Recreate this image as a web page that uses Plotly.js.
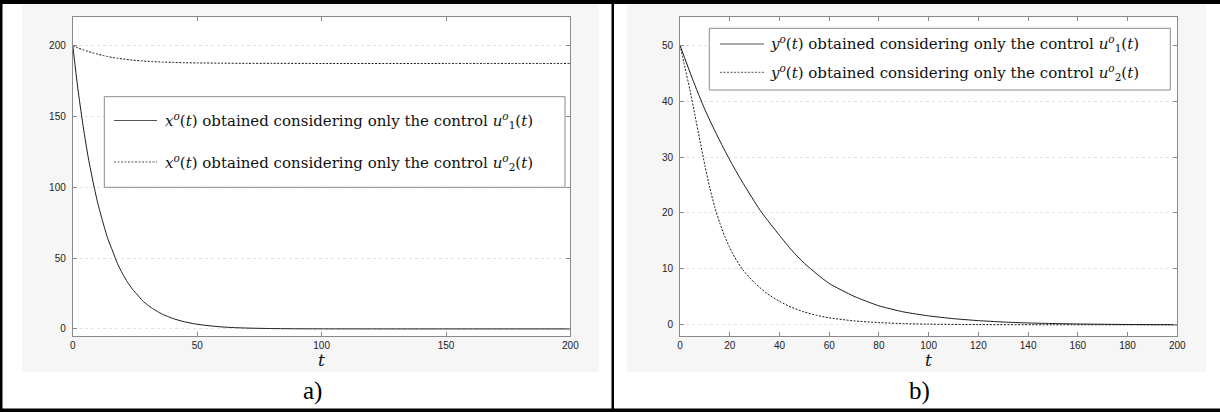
<!DOCTYPE html>
<html>
<head>
<meta charset="utf-8">
<script src="https://cdn.plot.ly/plotly-3.0.1.min.js"></script>
<style>html,body{margin:0;padding:0;background:#fff;}#plot{width:1220px;height:412px;}</style>
</head>
<body>
<div id="plot"></div>
<script>
// ---------- data ----------
// Panel a: x^o(t)
const tA = [0, 2, 4, 6, 8, 10, 12, 14, 16, 18, 20, 22, 24, 26, 28, 30, 32, 34, 36, 38, 40, 44, 48, 52, 56, 60, 65, 70, 80, 90, 100, 120, 150, 200];
const xA_u1 = [200, 170, 145, 123, 105, 89, 76, 64, 55, 46, 39, 33, 28, 24, 20, 17, 14.5, 12.3, 10.4, 8.9, 7.5, 5.4, 3.9, 2.8, 2.0, 1.4, 0.9, 0.6, 0.25, 0.1, 0.05, 0.01, 0, 0];
const tA2 = [0, 2, 4, 6, 8, 10, 12, 14, 16, 18, 20, 24, 28, 32, 36, 40, 45, 50, 60, 70, 80, 100, 150, 200];
const xA_u2 = [200, 198.5, 197.2, 196.0, 194.9, 194.0, 193.1, 192.3, 191.6, 191.1, 190.6, 189.8, 189.2, 188.7, 188.4, 188.2, 187.9, 187.8, 187.6, 187.5, 187.5, 187.4, 187.4, 187.4];

// Panel b: y^o(t)
const tB1 = [0, 5, 10, 15, 20, 25, 30, 33, 40, 45, 50, 55, 60, 70, 80, 90, 100, 110, 120, 130, 140, 160, 180, 200];
const yB_u1 = [50, 44, 38.5, 33.8, 29.5, 25.6, 22, 20, 16, 13.3, 11, 9.1, 7.4, 5.1, 3.4, 2.3, 1.6, 1.1, 0.75, 0.5, 0.33, 0.15, 0.06, 0.02];
const tB2 = [0, 2, 4, 6, 8, 10, 12, 14, 16, 18, 20, 22, 25, 30, 35, 40, 45, 50, 55, 60, 70, 80, 90, 100, 120, 150, 200];
const yB_u2 = [50, 46, 42, 37.5, 33, 28.5, 24.5, 21, 18.2, 15.8, 13.8, 12.1, 10, 7.5, 5.6, 4.2, 3.1, 2.3, 1.7, 1.25, 0.7, 0.4, 0.22, 0.12, 0.04, 0.01, 0];

const legendA = [
  '<i>x</i><sup><i>o</i></sup>(<i>t</i>) obtained considering only the control <i>u</i><sup><i>o</i></sup><sub>1</sub>(<i>t</i>)',
  '<i>x</i><sup><i>o</i></sup>(<i>t</i>) obtained considering only the control <i>u</i><sup><i>o</i></sup><sub>2</sub>(<i>t</i>)'
];
const legendB = [
  '<i>y</i><sup><i>o</i></sup>(<i>t</i>) obtained considering only the control <i>u</i><sup><i>o</i></sup><sub>1</sub>(<i>t</i>)',
  '<i>y</i><sup><i>o</i></sup>(<i>t</i>) obtained considering only the control <i>u</i><sup><i>o</i></sup><sub>2</sub>(<i>t</i>)'
];
const xTicksA = [0, 50, 100, 150, 200];
const yTicksA = [0, 50, 100, 150, 200];
const xTicksB = [0, 20, 40, 60, 80, 100, 120, 140, 160, 180, 200];
const yTicksB = [0, 10, 20, 30, 40, 50];
const panelLabels = ['a)', 'b)'];
const axisLabel = 't';

// ---------- layout helpers (pixel -> paper) ----------
const W = 1220, H = 412;
const px = v => v / W;
const py = v => 1 - v / H;

const lineColor = '#1a1a1a';
const solid = {color: lineColor, width: 1, shape: 'spline', smoothing: 0.6};
const dashed = {color: lineColor, width: 1, dash: '2px,1.5px', shape: 'spline', smoothing: 0.6};

const traces = [
  {x: tA, y: xA_u1, type: 'scatter', mode: 'lines', line: solid, xaxis: 'x', yaxis: 'y', showlegend: false},
  {x: tA2, y: xA_u2, type: 'scatter', mode: 'lines', line: dashed, xaxis: 'x', yaxis: 'y', showlegend: false},
  {x: tB1, y: yB_u1, type: 'scatter', mode: 'lines', line: solid, xaxis: 'x2', yaxis: 'y2', showlegend: false},
  {x: tB2, y: yB_u2, type: 'scatter', mode: 'lines', line: dashed, xaxis: 'x2', yaxis: 'y2', showlegend: false}
];

const axColor = '#8a8a8a';
const tickFont = {family: 'Liberation Sans, Arial, sans-serif', size: 10, color: '#222'};
function axis(extra) {
  return Object.assign({
    showline: true, linecolor: axColor, linewidth: 1, mirror: 'ticks',
    ticks: 'inside', ticklen: 4, tickcolor: axColor, tickwidth: 1,
    zeroline: false, tickfont: tickFont, tickmode: 'array', automargin: false,
    fixedrange: true
  }, extra);
}

const plotA = {x0: 72.8, x1: 570.4, y0: 17.3, y1: 336};
const plotB = {x0: 680, x1: 1177.3, y0: 17.3, y1: 336};

const shapes = [];
// figure backgrounds (light gray) and white axes areas
shapes.push({type: 'rect', xref: 'paper', yref: 'paper', x0: px(22), x1: px(599), y0: py(372), y1: py(4), fillcolor: '#f6f6f6', line: {width: 0}, layer: 'below'});
shapes.push({type: 'rect', xref: 'paper', yref: 'paper', x0: px(627), x1: px(1206), y0: py(372), y1: py(4), fillcolor: '#f6f6f6', line: {width: 0}, layer: 'below'});
[plotA, plotB].forEach(p => shapes.push({type: 'rect', xref: 'paper', yref: 'paper', x0: px(p.x0), x1: px(p.x1), y0: py(p.y1), y1: py(p.y0), fillcolor: '#ffffff', line: {width: 0}, layer: 'below'}));
// frame borders
const black = {type: 'rect', xref: 'paper', yref: 'paper', fillcolor: '#000', line: {width: 0}, layer: 'above'};
shapes.push(Object.assign({}, black, {x0: 0, x1: px(2.5), y0: 0, y1: 1}));
shapes.push(Object.assign({}, black, {x0: 0, x1: 1, y0: py(4), y1: 1}));
shapes.push(Object.assign({}, black, {x0: 0, x1: 1, y0: 0, y1: py(408.5)}));
shapes.push(Object.assign({}, black, {x0: px(611.5), x1: px(614), y0: 0, y1: 1}));

// legend boxes
const legBoxes = [
  {x0: 104.3, x1: 565, y0: 96.7, y1: 187.3, rows: [120.5, 162], lx0: 114, lx1: 157, tx: 162.7, texts: legendA},
  {x0: 709.3, x1: 1170.3, y0: 28.3, y1: 90, rows: [44, 72.3], lx0: 720, lx1: 764, tx: 768, texts: legendB}
];
const annotations = [];
const legFont = {family: 'DejaVu Serif, serif', size: 15, color: '#111'};
legBoxes.forEach(b => {
  shapes.push({type: 'rect', xref: 'paper', yref: 'paper', x0: px(b.x0), x1: px(b.x1), y0: py(b.y1), y1: py(b.y0), fillcolor: '#fff', line: {color: axColor, width: 1}, layer: 'above'});
  b.rows.forEach((r, i) => {
    shapes.push({type: 'line', xref: 'paper', yref: 'paper', x0: px(b.lx0), x1: px(b.lx1), y0: py(r), y1: py(r), line: i === 0 ? {color: '#555', width: 1} : {color: '#555', width: 1, dash: '2px,1.5px'}, layer: 'above'});
    annotations.push({xref: 'paper', yref: 'paper', x: px(b.tx), y: py(r), xanchor: 'left', yanchor: 'middle', text: b.texts[i], showarrow: false, font: legFont});
  });
});
// axis label t and panel labels
[[plotA, panelLabels[0], 313], [plotB, panelLabels[1], 919]].forEach(([p, lab, cx]) => {
  annotations.push({xref: 'paper', yref: 'paper', x: px((p.x0 + p.x1) / 2), y: py(360), xanchor: 'center', yanchor: 'middle', text: '<i>' + axisLabel + '</i>', showarrow: false, font: {family: 'DejaVu Serif, serif', size: 17, color: '#111'}});
  annotations.push({xref: 'paper', yref: 'paper', x: px(cx), y: py(391), xanchor: 'center', yanchor: 'middle', text: lab, showarrow: false, font: {family: 'Liberation Serif, Times New Roman, serif', size: 25, color: '#000'}});
});

const gridStyle = {showgrid: true, gridcolor: '#e2e2e2', griddash: '3px,3px', gridwidth: 1, ticklabelstandoff: 4};
const layout = {
  width: W, height: H,
  margin: {l: 0, r: 0, t: 0, b: 0, pad: 0},
  paper_bgcolor: '#ffffff', plot_bgcolor: 'rgba(0,0,0,0)',
  showlegend: false,
  xaxis: axis({domain: [px(plotA.x0), px(plotA.x1)], range: [0, 200], tickvals: xTicksA, ticktext: xTicksA.map(String), showgrid: false, anchor: 'y'}),
  yaxis: axis(Object.assign({domain: [py(plotA.y1), py(plotA.y0)], range: [-5, 220], tickvals: yTicksA, ticktext: yTicksA.map(String), anchor: 'x'}, gridStyle)),
  xaxis2: axis({domain: [px(plotB.x0), px(plotB.x1)], range: [0, 200], tickvals: xTicksB, ticktext: xTicksB.map(String), showgrid: false, anchor: 'y2'}),
  yaxis2: axis(Object.assign({domain: [py(plotB.y1), py(plotB.y0)], range: [-2, 55], tickvals: yTicksB, ticktext: yTicksB.map(String), anchor: 'x2'}, gridStyle)),
  shapes: shapes,
  annotations: annotations
};

Plotly.newPlot('plot', traces, layout, {displayModeBar: false, staticPlot: true});
</script>
</body>
</html>
